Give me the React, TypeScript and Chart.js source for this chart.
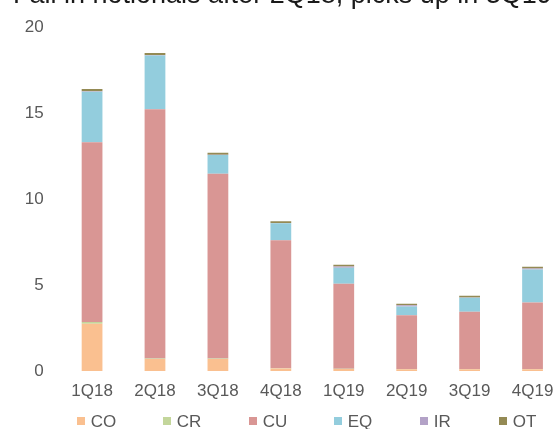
import React, { useEffect, useRef } from "react";
import { Chart, registerables } from "chart.js";

Chart.register(...registerables);

const TITLE = "Fall in notionals after 2Q18, picks up in 3Q19";
const categories = ["1Q18", "2Q18", "3Q18", "4Q18", "1Q19", "2Q19", "3Q19", "4Q19"];
const CO = [2.75, 0.7, 0.7, 0.15, 0.12, 0.1, 0.1, 0.1];
const CR = [0.1, 0.02, 0.02, 0.01, 0.01, 0.01, 0.01, 0.01];
const CU = [10.45, 14.5, 10.75, 7.45, 4.95, 3.14, 3.33, 3.88];
const EQ = [2.95, 3.14, 1.09, 0.98, 0.92, 0.5, 0.82, 1.92];
const IR = [0.03, 0.02, 0.02, 0.02, 0.08, 0.08, 0.02, 0.06];
const OT = [0.12, 0.12, 0.12, 0.1, 0.1, 0.08, 0.1, 0.1];
const seriesNames = ["CO", "CR", "CU", "EQ", "IR", "OT"];
const seriesValues = [CO, CR, CU, EQ, IR, OT];
const seriesColors = ["#FAC090", "#C3D69B", "#D99694", "#93CDDD", "#B3A2C7", "#948A54"];
const yTicks = [0, 5, 10, 15, 20];

const FONT = "'Liberation Sans', Arial, sans-serif";
const legendLefts = [77, 163, 249, 334, 420, 499];

export default function App() {
  const ref = useRef<HTMLCanvasElement | null>(null);

  useEffect(() => {
    if (!ref.current) return;
    const chart = new Chart(ref.current, {
      type: "bar",
      data: {
        labels: categories,
        datasets: seriesNames.map((name, i) => ({
          label: name,
          data: seriesValues[i],
          backgroundColor: seriesColors[i],
          borderWidth: 0,
          categoryPercentage: 1,
          barPercentage: 0.33,
        })),
      },
      options: {
        responsive: false,
        animation: false,
        devicePixelRatio: 1,
        layout: { padding: { top: 22, left: 0, right: 0, bottom: 0 } },
        plugins: {
          legend: { display: false },
          title: { display: false },
          tooltip: { enabled: false },
        },
        scales: {
          x: {
            stacked: true,
            grid: { display: false, drawTicks: false },
            border: { display: false },
            ticks: {
              color: "#595959",
              font: { family: FONT, size: 17 },
              padding: 10,
              maxRotation: 0,
              autoSkip: false,
            },
            afterFit: (scale: any) => {
              scale.height = 58;
            },
          },
          y: {
            stacked: true,
            min: 0,
            max: 20,
            grid: { display: false, drawTicks: false },
            border: { display: false },
            afterBuildTicks: (scale: any) => {
              scale.ticks = yTicks.map((v) => ({ value: v }));
            },
            ticks: {
              color: "#595959",
              font: { family: FONT, size: 17 },
              padding: 17,
            },
            afterFit: (scale: any) => {
              scale.width = 60.6;
            },
          },
        },
      },
    });
    return () => chart.destroy();
  }, []);

  return (
    <div
      style={{
        position: "fixed",
        left: 0,
        top: 0,
        width: 558,
        height: 429,
        overflow: "hidden",
        background: "#fff",
        fontFamily: FONT,
      }}
    >
      <canvas ref={ref} width={564} height={429} style={{ display: "block", position: "absolute", left: 0, top: 0 }} />
      <div
        style={{
          position: "absolute",
          left: 13,
          top: -19,
          fontSize: 27,
          lineHeight: "27px",
          color: "#1a1a1a",
          whiteSpace: "nowrap",
        }}
      >
        {TITLE}
      </div>
      {seriesNames.map((name, i) => (
        <div
          key={name}
          style={{
            position: "absolute",
            left: legendLefts[i],
            top: 412.6,
            height: 17,
            fontSize: 17,
            lineHeight: "17px",
            color: "#595959",
            whiteSpace: "nowrap",
          }}
        >
          <span
            style={{
              position: "absolute",
              left: 0,
              top: 4.4,
              width: 8,
              height: 8,
              background: seriesColors[i],
            }}
          />
          <span style={{ position: "absolute", left: 13.7, top: 0 }}>{name}</span>
        </div>
      ))}
    </div>
  );
}
